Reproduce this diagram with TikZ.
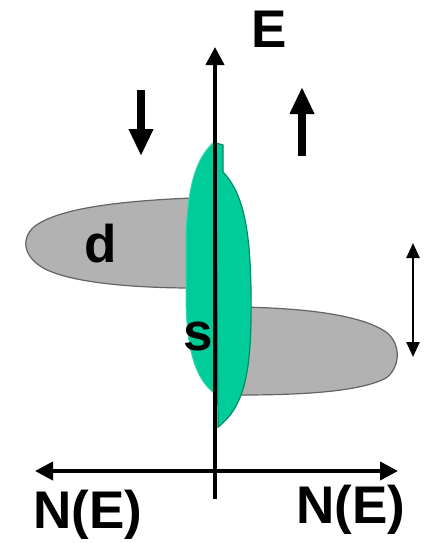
\documentclass[tikz,border=0pt]{standalone}
\usepackage{fontspec}
\setmainfont{Liberation Sans}
\usetikzlibrary{arrows.meta}
\definecolor{sgreen}{RGB}{0,204,153}
\definecolor{sgreendark}{RGB}{0,140,100}
\definecolor{dgray}{RGB}{178,178,178}
\definecolor{dgrayline}{RGB}{100,100,100}
\tikzset{
  lbl/.style={inner sep=0pt, font=\fontsize{53}{53}\selectfont\bfseries},
  axis/.style={line width=4pt, -{Triangle[width=18pt,length=18pt]}},
  bigarrow/.style={line width=7.5pt, -{Triangle[width=23pt,length=27pt]}},
  dblarrow/.style={line width=2.5pt, {Triangle[width=13pt,length=15pt]}-{Triangle[width=13pt,length=15pt]}},
  gblob/.style={fill=dgray, draw=dgrayline, line width=1.2pt},
}
\begin{document}
\begin{tikzpicture}[x=1pt,y=-1pt]
\useasboundingbox (0,0) rectangle (423,543);
% gray blobs
\path[gblob] (192,198) .. controls (120,201) and (60,208) .. (35,226)
  .. controls (18,240) and (25,262) .. (52,272)
  .. controls (85,285) and (150,288) .. (192,288) -- cycle;
\path[gblob] (240,307) .. controls (300,308) and (360,314) .. (386,332)
  .. controls (402,344) and (400,368) .. (386,378)
  .. controls (360,392) and (300,395) .. (240,395) -- cycle;
% green shapes
\path[fill=sgreen, draw=sgreen!80!white, line width=1pt] (214,142)
  .. controls (196,158) and (188,185) .. (186,235) -- (186,300)
  .. controls (187,350) and (195,378) .. (214,393) -- cycle;
\path[fill=sgreen, draw=sgreendark, line width=1.2pt] (216,143) -- (223,145) -- (223,172)
  .. controls (245,195) and (250,235) .. (251,290)
  .. controls (252,365) and (247,405) .. (218,427) -- cycle;
% axes
\coordinate (ybot) at (215,499);
\coordinate (ytop) at (215,47);
\coordinate (xl) at (35,471);
\coordinate (xr) at (398,471);
\coordinate (xm) at (215,471);
\draw[axis] (ybot) -- (ytop);
\draw[axis] (xm) -- (xl);
\draw[axis] (xm) -- (xr);
% spin arrows
\coordinate (dtop) at (141,90);
\coordinate (dbot) at (141,156);
\coordinate (ubot) at (302,156);
\coordinate (utop) at (302,87);
\draw[bigarrow] (dtop) -- (dbot);
\draw[bigarrow] (ubot) -- (utop);
\coordinate (vt) at (413,243);
\coordinate (vb) at (413,357);
\draw[dblarrow] (vt) -- (vb);
% labels
\node[lbl, anchor=base west] (E) at (251,48) {E};
\node[lbl, anchor=base west] (d) at (84,262) {d};
\node[lbl, anchor=base west] (s) at (183,350) {s};
\node[lbl, anchor=base west] (NL) at (33,528) {N(E)};
\node[lbl, anchor=base west] (NR) at (296,523) {N(E)};
\end{tikzpicture}
\end{document}
